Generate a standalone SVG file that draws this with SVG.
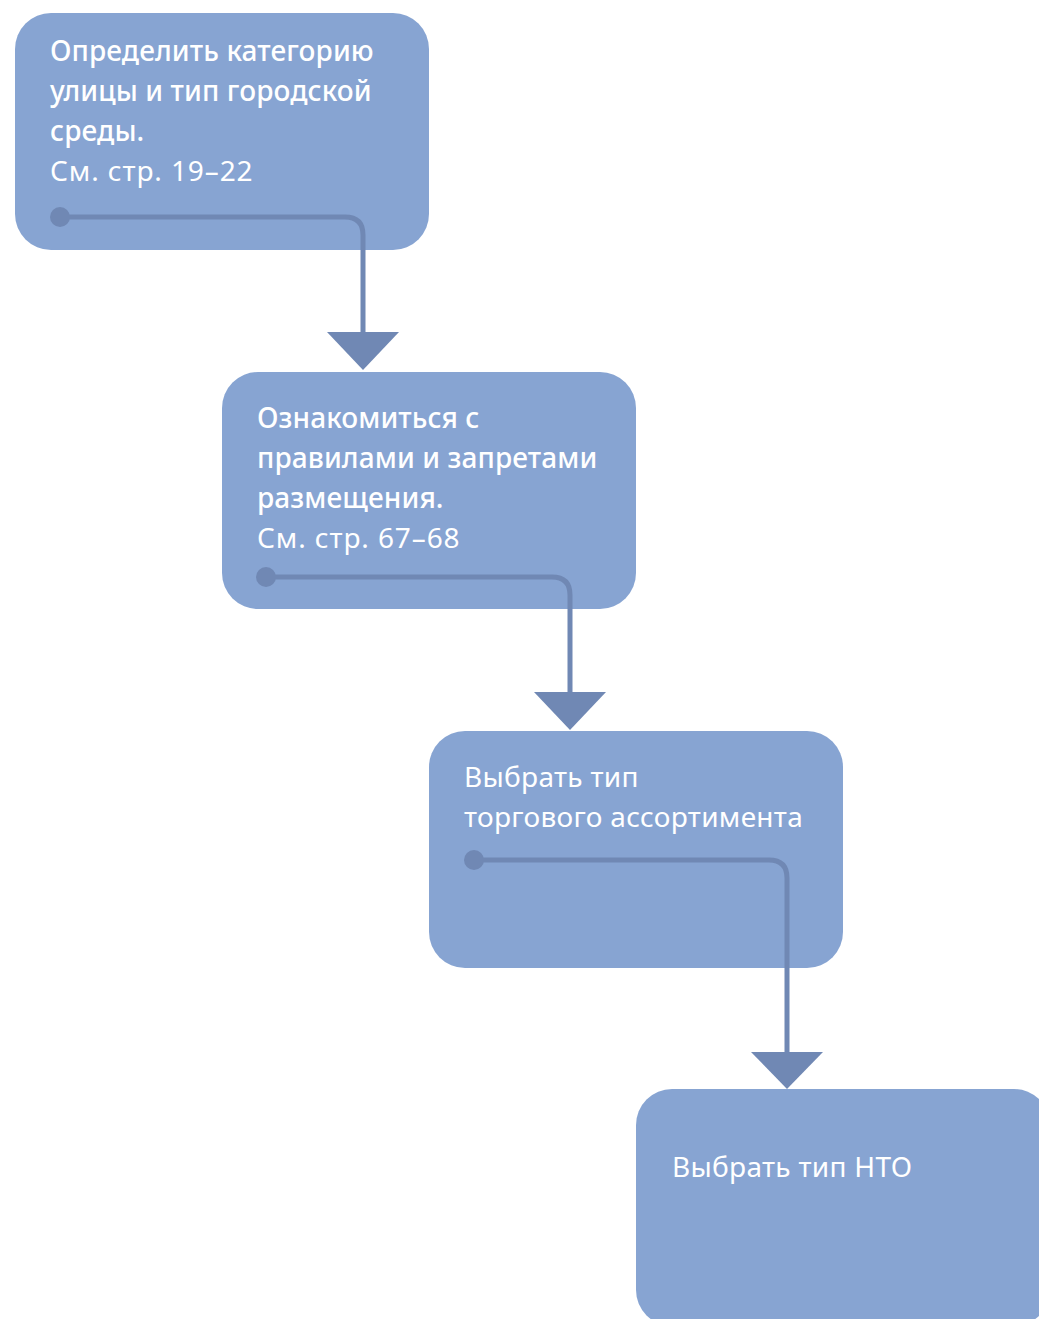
<svg xmlns="http://www.w3.org/2000/svg" width="1039" height="1319" viewBox="0 0 1039 1319">
<style>
.box{fill:#87a4d2}
.t{font-family:"Noto Sans","Liberation Sans",sans-serif;font-size:28px;letter-spacing:0.1px;fill:#ffffff;font-weight:500}
.r{font-weight:400;letter-spacing:0.3px}
.p{font-weight:400;letter-spacing:0.9px}
.ln{fill:none;stroke:#7088b4;stroke-width:5}
.dot{fill:#7088b4}
.ar{fill:#7088b4}
</style>
<rect width="1039" height="1319" fill="#ffffff"/>
<g id="node1">
<rect class="box" x="15" y="13" width="414" height="237" rx="36"/>
<text class="t" x="50" y="61">Определить категорию</text>
<text class="t" x="50" y="101">улицы и тип городской</text>
<text class="t" x="50" y="141">среды.</text>
<text class="t p" x="50" y="181">См. стр. 19–22</text>
</g>
<g id="node2">
<rect class="box" x="222" y="372" width="414" height="237" rx="36"/>
<text class="t" x="257" y="428">Ознакомиться с</text>
<text class="t" x="257" y="468">правилами и запретами</text>
<text class="t" x="257" y="508">размещения.</text>
<text class="t p" x="257" y="548">См. стр. 67–68</text>
</g>
<g id="node3">
<rect class="box" x="429" y="731" width="414" height="237" rx="36"/>
<text class="t r" x="464" y="787">Выбрать тип</text>
<text class="t r" x="464" y="827">торгового ассортимента</text>
</g>
<g id="node4">
<rect class="box" x="636" y="1089" width="414" height="237" rx="36"/>
<text class="t r" x="672" y="1177">Выбрать тип НТО</text>
</g>
<g id="connectors">
<circle class="dot" cx="60" cy="217" r="10"/>
<path class="ln" d="M60 217 H345 Q363 217 363 235 V335"/>
<polygon class="ar" points="327,332 399,332 363,370"/>
<circle class="dot" cx="266" cy="577" r="10"/>
<path class="ln" d="M266 577 H552 Q570 577 570 595 V695"/>
<polygon class="ar" points="534,692 606,692 570,730"/>
<circle class="dot" cx="474" cy="860" r="10"/>
<path class="ln" d="M474 860 H769 Q787 860 787 878 V1055"/>
<polygon class="ar" points="751,1052 823,1052 787,1089"/>
</g>
</svg>
